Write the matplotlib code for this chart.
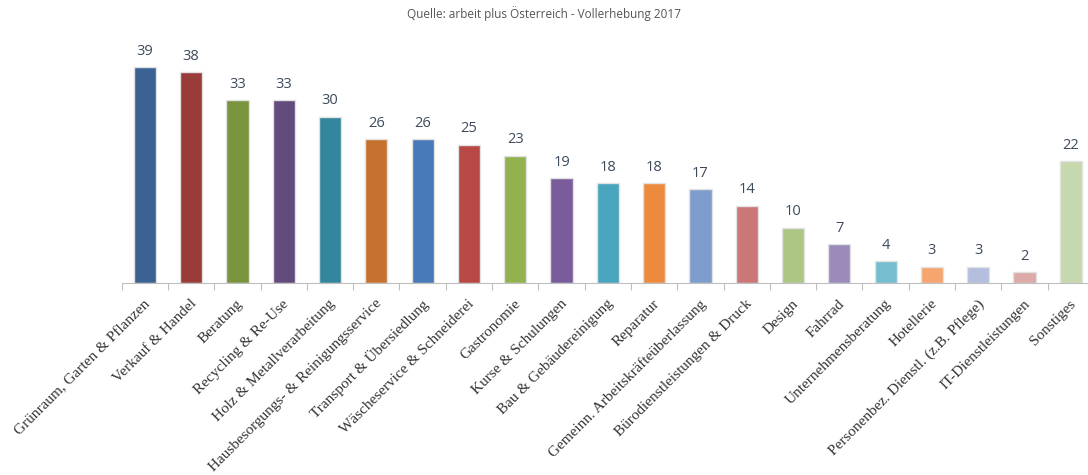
"""Bar chart: arbeit plus Österreich - Vollerhebung 2017."""
from matplotlib import pyplot as plt

categories = [
    'Grünraum, Garten & Pflanzen', 'Verkauf & Handel', 'Beratung',
    'Recycling & Re-Use', 'Holz & Metallverarbeitung',
    'Hausbesorgungs- & Reinigungsservice', 'Transport & Übersiedlung',
    'Wäscheservice & Schneiderei', 'Gastronomie', 'Kurse & Schulungen',
    'Bau & Gebäudereinigung', 'Reparatur',
    'Gemeinn. Arbeitskräfteüberlassung', 'Bürodienstleistungen & Druck',
    'Design', 'Fahrrad', 'Unternehmensberatung', 'Hotellerie',
    'Personenbez. Dienstl. (z.B. Pflege)', 'IT-Dienstleistungen',
    'Sonstiges',
]
values = [39, 38, 33, 33, 30, 26, 26, 25, 23, 19, 18, 18, 17, 14, 10, 7,
          4, 3, 3, 2, 22]
colors = [
    '#3b6293', '#983b39', '#7a943e', '#624b7d', '#33879c', '#c5722f',
    '#4879b8', '#b84845', '#93b24f', '#7a5c9c', '#48a5bd', '#ec8a3d',
    '#7e9dcc', '#cc7777', '#aec684', '#9c8aba', '#76bdd0', '#f7a56f',
    '#b3bfdc', '#dcaaa8', '#c7d8ae',
]

fig = plt.figure(figsize=(10.88, 4.75), dpi=100)
# axes: left 121.7px, bottom 283.3px, category width 46.3px
ax = fig.add_axes([121.7 / 1088, 1 - 283.3 / 475,
                   21 * 46.3 / 1088, 222 / 475])
x = range(len(values))
ax.bar(x, values, width=0.48, color=colors, edgecolor='#e2e2e2',
       linewidth=1.0, zorder=2)
ax.set_xlim(-0.5, 20.5)
ax.set_ylim(0, 40)

for xi, v in zip(x, values):
    ax.annotate(str(v), (xi, v), xytext=(0, 6), textcoords='offset points',
                ha='center', va='bottom', fontsize=10.5, color='#3d4a5c',
                family='Open Sans')

for side in ['top', 'right', 'left']:
    ax.spines[side].set_visible(False)
ax.spines['bottom'].set_color('#bfbfbf')
ax.set_yticks([])
ax.set_xticks([i - 0.5 for i in range(len(values) + 1)])
ax.set_xticklabels([])
ax.tick_params(axis='x', length=5, color='#bfbfbf', direction='out')
for xi, cat in zip(x, categories):
    ax.annotate(cat, (xi, 0), xytext=(-1, -10), textcoords='offset points',
                rotation=45, ha='right', va='top', rotation_mode='anchor',
                fontsize=11, color='#333333', family='Liberation Serif',
                annotation_clip=False)

fig.text(0.5, 1 - 14 / 475, 'Quelle: arbeit plus Österreich - Vollerhebung 2017',
         ha='center', va='center', fontsize=8.5, color='#555555',
         family='Open Sans')

fig.savefig('out.png', dpi=100, facecolor='white')
